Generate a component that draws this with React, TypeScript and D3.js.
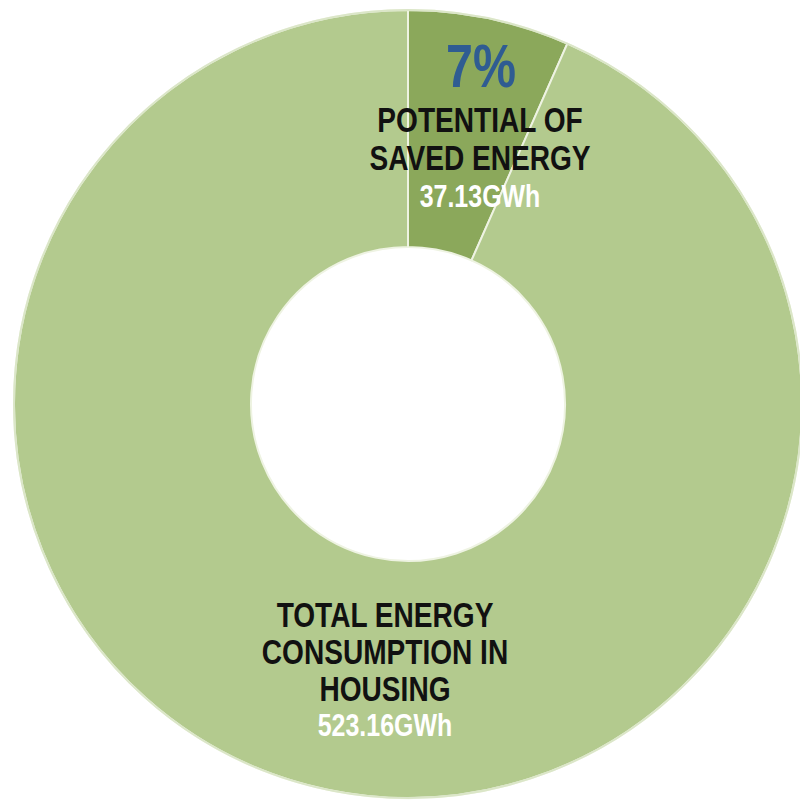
import React from "react";
import * as d3 from "d3";

// Slices, clockwise from 12 o'clock
const categories = ["POTENTIAL OF SAVED ENERGY", "TOTAL ENERGY CONSUMPTION IN HOUSING"];
const values = [37.13, 523.16];
const valueLabels = ["37.13GWh", "523.16GWh"];
const percentLabel = "7%";
const labelLines = [
    ["POTENTIAL OF", "SAVED ENERGY"],
    ["TOTAL ENERGY", "CONSUMPTION IN", "HOUSING"],
];

const COLORS = ["#8ba85b", "#b3ca8e"];

const WIDTH = 800;
const HEIGHT = 802;
const CX = 408;
const CY = 404;
const R_OUT = 394;
const R_IN = 157;

const FONT = "'Liberation Sans', Arial, sans-serif";
const SQUEEZE = 0.78;

const App: React.FC = () => {
    const pie = d3
        .pie<number>()
        .sort(null)
        .value(d => d)
        .startAngle(0)
        .endAngle(2 * Math.PI);
    const arcs = pie(values);
    const arc = d3.arc<d3.PieArcDatum<number>>().innerRadius(R_IN).outerRadius(R_OUT);

    const label = (
        text: string,
        x: number,
        y: number,
        size: number,
        fill: string,
        key: string
    ) => (
        <text
            key={key}
            transform={`translate(${x},${y}) scale(${SQUEEZE},1)`}
            textAnchor="middle"
            fontFamily={FONT}
            fontWeight="bold"
            fontSize={size}
            fill={fill}
        >
            {text}
        </text>
    );

    // label anchors (centre x, first baseline) for each slice
    const anchors = [
        { x: 480, y: 132 },
        { x: 385, y: 627 },
    ];
    const lineStep = [38, 37];

    return (
        <div style={{ position: "absolute", left: 0, top: 0 }}>
            <svg width={WIDTH} height={HEIGHT} style={{ display: "block" }}>
                <rect width={WIDTH} height={HEIGHT} fill="#ffffff" />
                <g transform={`translate(${CX},${CY})`}>
                    {arcs.map((a, i) => (
                        <path
                            key={categories[i]}
                            d={arc(a) || ""}
                            fill={COLORS[i]}
                            stroke="#eef3e2"
                            strokeWidth={2}
                        />
                    ))}
                    <circle r={R_OUT} fill="none" stroke="#dbe6c8" strokeWidth={2} />
                </g>
                {label(percentLabel, 481, 87, 62, "#2f5c92", "pct")}
                {labelLines.map((lines, i) => (
                    <g key={categories[i]}>
                        {lines.map((ln, j) =>
                            label(ln, anchors[i].x, anchors[i].y + j * lineStep[i], 36, "#111111", `${i}-${j}`)
                        )}
                        {label(
                            valueLabels[i],
                            anchors[i].x,
                            anchors[i].y + lines.length * lineStep[i] - 1 - (i === 1 ? 1 : 0),
                            32,
                            "#ffffff",
                            `v${i}`
                        )}
                    </g>
                ))}
            </svg>
        </div>
    );
};

export default App;
